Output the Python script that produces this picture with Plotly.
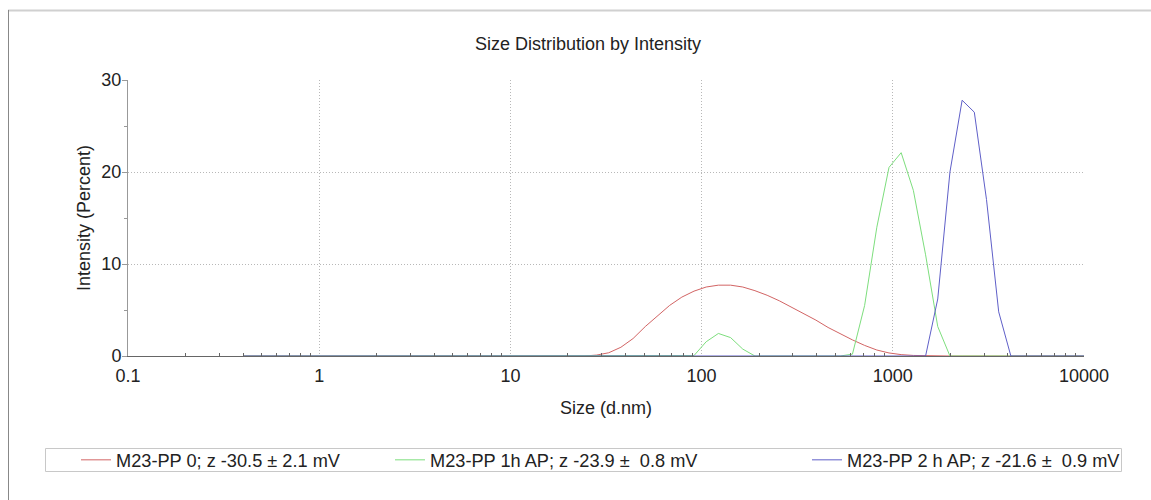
import plotly.graph_objects as go

# Size bins (d.nm)
sizes = [0.4, 0.4632, 0.5365, 0.6213, 0.7195, 0.8332, 0.9649, 1.117, 1.294, 1.499,
         1.736, 2.010, 2.328, 2.696, 3.122, 3.615, 4.187, 4.849, 5.615, 6.503,
         7.531, 8.721, 10.10, 11.70, 13.54, 15.69, 18.17, 21.04, 24.36, 28.21,
         32.67, 37.84, 43.82, 50.75, 58.77, 68.06, 78.82, 91.28, 105.7, 122.4,
         141.8, 164.2, 190.1, 220.2, 255.0, 295.3, 342.0, 396.1, 458.7, 531.2,
         615.1, 712.4, 825.0, 955.4, 1106, 1281, 1484, 1718, 1990, 2305,
         2669, 3091, 3580, 4145, 4801, 5560, 6439, 7456, 8635, 10000]

# Intensity (Percent)
pp0 = [0, 0, 0, 0, 0, 0, 0, 0, 0, 0,
       0, 0, 0, 0, 0, 0, 0, 0, 0, 0,
       0, 0, 0, 0, 0, 0, 0, 0, 0, 0.1,
       0.35, 0.95, 1.9, 3.2, 4.4, 5.5, 6.4, 7.05, 7.5, 7.7,
       7.7, 7.5, 7.1, 6.6, 6.0, 5.3, 4.6, 3.9, 3.1, 2.4,
       1.75, 1.15, 0.65, 0.33, 0.15, 0.06, 0.02, 0, 0, 0,
       0, 0, 0, 0, 0, 0, 0, 0, 0, 0]

pp1h = [0, 0, 0, 0, 0, 0, 0, 0, 0, 0,
        0, 0, 0, 0, 0, 0, 0, 0, 0, 0,
        0, 0, 0, 0, 0, 0, 0, 0, 0, 0,
        0, 0, 0, 0, 0, 0, 0, 0.05, 1.55, 2.45,
        2.0, 0.75, 0, 0, 0, 0, 0, 0, 0, 0,
        0.2, 5.5, 14.0, 20.5, 22.1, 18.0, 11.0, 3.2, 0, 0,
        0, 0, 0, 0, 0, 0, 0, 0, 0, 0]

pp2h = [0, 0, 0, 0, 0, 0, 0, 0, 0, 0,
        0, 0, 0, 0, 0, 0, 0, 0, 0, 0,
        0, 0, 0, 0, 0, 0, 0, 0, 0, 0,
        0, 0, 0, 0, 0, 0, 0, 0, 0, 0,
        0, 0, 0, 0, 0, 0, 0, 0, 0, 0,
        0, 0, 0, 0, 0, 0, 0, 6.2, 20.0, 27.8,
        26.5, 17.0, 4.8, 0, 0, 0, 0, 0, 0, 0]

series_names = ["M23-PP 0; z -30.5 ± 2.1 mV",
                "M23-PP 1h AP; z -23.9 ±  0.8 mV",
                "M23-PP 2 h AP; z -21.6 ±  0.9 mV"]
series_values = [pp0, pp1h, pp2h]
series_colors = ["rgb(210,100,100)", "rgb(125,222,125)", "rgb(95,95,200)"]

x_tickvals = [0.1, 1, 10, 100, 1000, 10000]
x_ticktext = ["0.1", "1", "10", "100", "1000", "10000"]
x_minor = [m * d for d in [0.1, 1, 10, 100, 1000] for m in range(2, 10)]

y_tickvals = [0, 10, 20, 30]

FONT = "Liberation Sans, Arial, sans-serif"
GRID = "#b8b8b8"

W, H = 1151, 500
L, R, T, B = 128, 1084, 80, 356
pw, ph = R - L, B - T


def px(x):
    return (x - L) / pw


def py(y):
    return (B - y) / ph


fig = go.Figure()
legend_ids = ["legend", "legend2", "legend3"]
for name, vals, col, lg in zip(series_names, series_values, series_colors, legend_ids):
    fig.add_trace(go.Scatter(x=sizes, y=vals, mode="lines", name=name,
                             line=dict(color=col, width=1), legend=lg))

legend_text_x = [121, 435, 852]
leg_common = dict(orientation="h", yanchor="middle", xanchor="left",
                  bgcolor="rgba(0,0,0,0)", borderwidth=0,
                  font=dict(family=FONT, size=18.2, color="#222"))

fig.update_layout(
    width=W, height=H,
    margin=dict(l=L, r=W - R, t=T, b=H - B),
    paper_bgcolor="white", plot_bgcolor="white",
    font=dict(family=FONT, size=18, color="#222"),
    title=dict(text="Size Distribution by Intensity", x=588 / W, xanchor="center",
               y=1 - 44 / H, yanchor="middle", font=dict(family=FONT, size=18, color="#222")),
    legend=dict(x=px(legend_text_x[0] - 40 - 5), y=py(460), **leg_common),
    legend2=dict(x=px(legend_text_x[1] - 40 - 5), y=py(460), **leg_common),
    legend3=dict(x=px(legend_text_x[2] - 40 - 5), y=py(460), **leg_common),
    showlegend=True,
)

fig.update_xaxes(
    type="log", range=[-1, 4],
    tickmode="array", tickvals=x_tickvals, ticktext=x_ticktext,
    ticks="", showline=True, linecolor="#666", linewidth=1,
    showgrid=True, gridcolor=GRID, griddash="1px,2px", gridwidth=1,
    tickfont=dict(family=FONT, size=18, color="#222"),
    ticklabelstandoff=3,
    minor=dict(tickmode="array", tickvals=x_minor, ticks="inside", ticklen=3,
               tickcolor="#666", showgrid=False),
    title=dict(text="Size (d.nm)", font=dict(family=FONT, size=18, color="#222"), standoff=16),
    zeroline=False,
)

fig.update_yaxes(
    range=[0, 30], tickmode="array", tickvals=y_tickvals,
    ticks="outside", ticklen=5, tickcolor="#999",
    showline=True, linecolor="#999", linewidth=1,
    showgrid=True, gridcolor=GRID, griddash="1px,2px", gridwidth=1,
    tickfont=dict(family=FONT, size=18, color="#222"),
    ticklabelstandoff=-3,
    minor=dict(dtick=5, ticks="outside", ticklen=3, tickcolor="#999", showgrid=False),
    title=dict(text="Intensity (Percent)", font=dict(family=FONT, size=18, color="#222"), standoff=6),
    zeroline=False,
)

# outer frame (top and left) and legend box
fig.add_shape(type="line", xref="paper", yref="paper",
              x0=px(8), x1=px(W), y0=py(10.5), y1=py(10.5),
              line=dict(color="#d0d0d0", width=2))
fig.add_shape(type="line", xref="paper", yref="paper",
              x0=px(8.5), x1=px(8.5), y0=py(10), y1=py(H),
              line=dict(color="#888", width=1))
fig.add_shape(type="rect", xref="paper", yref="paper",
              x0=px(45.5), x1=px(1121.5), y0=py(448.5), y1=py(471.5),
              line=dict(color="#c8c8c8", width=1), fillcolor="rgba(0,0,0,0)")

fig.write_html("out.html")
